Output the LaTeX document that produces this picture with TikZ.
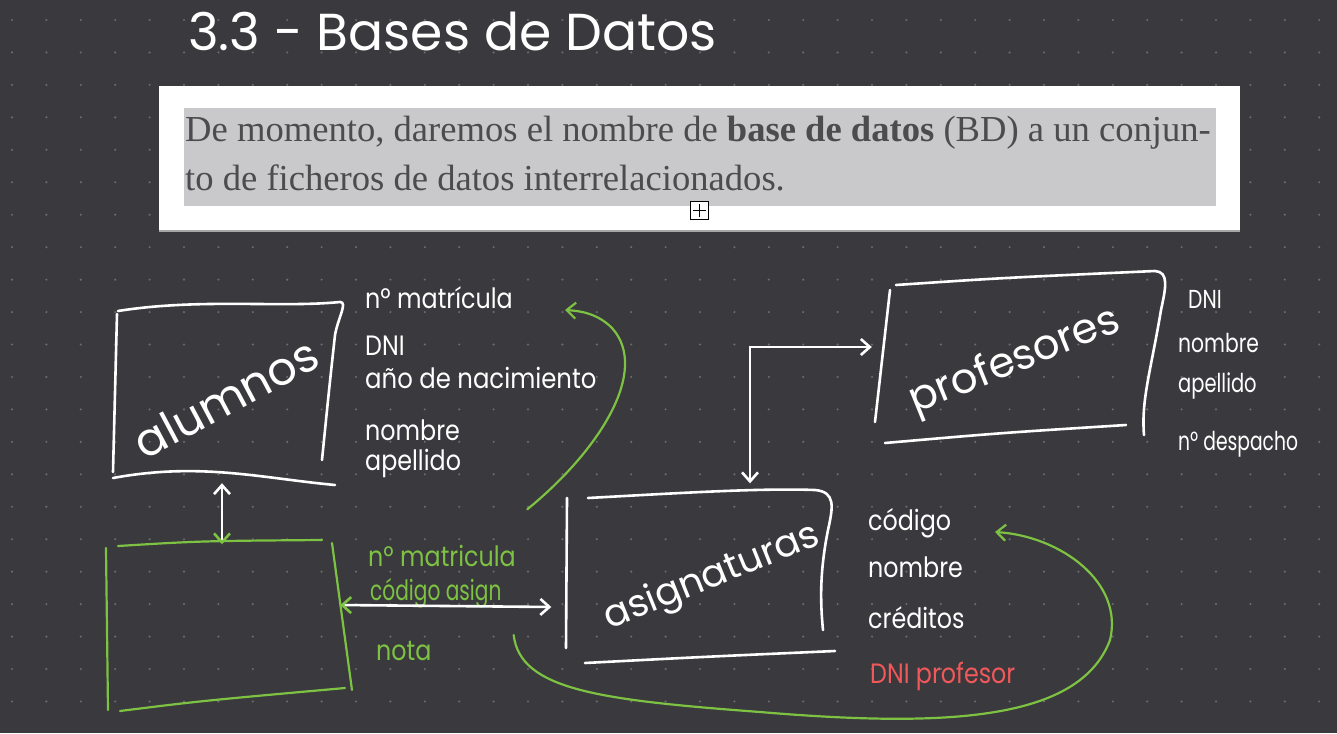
\documentclass[tikz,border=0pt]{standalone}
\usepackage{fontspec}
\setmainfont{Liberation Serif}
\newfontfamily\hand{Poppins}
\usetikzlibrary{arrows.meta,calc}
\definecolor{bgc}{HTML}{3A393D}
\definecolor{dotc}{HTML}{6A696E}
\definecolor{grn}{HTML}{7DC242}
\definecolor{redc}{HTML}{F0585A}
\definecolor{txtg}{HTML}{4C4C4F}
\definecolor{hlc}{HTML}{C9C8CB}
\newcommand\hsz[1]{\fontsize{#1}{#1}\selectfont}
\begin{document}
\begin{tikzpicture}[x=1pt,y=-1pt,
  wline/.style={white,line width=2.6pt,line cap=round,line join=round},
  gline/.style={grn,line width=2.2pt,line cap=round,line join=round},
  >={Straight Barb[length=9pt,width=16pt]},
  boxarea/.style={draw=none,inner sep=0,minimum width=#1},
  attr/.style={anchor=base west,inner sep=0,text=white,font=\hand\hsz{28}},
  gattr/.style={attr,text=grn},
  rattr/.style={attr,text=redc},
  boxlbl/.style={inner sep=0,text=white},
  paneltext/.style={anchor=base west,inner sep=0,text=txtg,font=\hsz{36.6}}
]
\useasboundingbox (0,0) rectangle (1337,733);
\fill[bgc] (0,0) rectangle (1337,733);
% dot grid
\foreach \i in {0,...,38}{
  \foreach \j in {0,...,21}{
    \fill[dotc] ({12+34.4*\i},{20+32.45*\j}) circle (1.2);
  }
}
% title
\node[anchor=base west,inner sep=0,text=white,font=\hand\hsz{52}] (title) at (188,51) {3.3 - Bases de Datos};
% panel
\node[fill=white,draw=none,minimum width=1081,minimum height=145,inner sep=0] (panel) at (699.5,158.5) {};
\draw[gray!70,line width=1.5pt] (panel.south west) -- (panel.south east);
\fill[hlc] (184,108) rectangle (1216,206);
\node[paneltext] (p1) at (185,141) {De momento, daremos el nombre de \textbf{base de datos} (BD) a un conjun-};
\node[paneltext] (p2) at (185,190) {to de ficheros de datos interrelacionados.};
\node[draw=black,fill=white,line width=0.9pt,minimum size=18,inner sep=0] (plus) at (699.5,210.5) {};
\draw[black,line width=0.9pt] ($(plus.west)+(3,0)$) -- ($(plus.east)+(-3,0)$) ($(plus.north)+(0,3)$) -- ($(plus.south)+(0,-3)$);

% box areas
\node[boxarea=226,minimum height=170] (alum) at (228,392) {};
\node[boxarea=232,minimum height=165] (rel) at (224,625) {};
\node[boxarea=265,minimum height=165] (asig) at (700,578) {};
\node[boxarea=280,minimum height=165] (prof) at (1022,357) {};

% alumnos outline
\draw[wline] (118,311) .. controls (200,298) and (280,308) .. (340,302) .. controls (348,302) and (338,318) .. (335,335) .. controls (329,390) .. (322,460);
\draw[wline] (117,314) -- (113,472);
\draw[wline] (113,478) .. controls (200,462) and (260,478) .. (335,485);
% green box outline
\draw[gline] (106,548) -- (108,710);
\draw[gline] (118,546) .. controls (200,541) .. (322,540);
\draw[gline] (332,543) -- (352,690);
\draw[gline] (120,711) .. controls (200,701) .. (345,688);
% asignaturas outline
\draw[wline] (567,498) -- (566,648);
\draw[wline] (588,498) .. controls (680,493) and (760,488) .. (815,490) .. controls (836,492) and (833,507) .. (828,530) .. controls (820,570) and (820,600) .. (823,630);
\draw[wline] (585,663) .. controls (700,657) .. (835,651);
% profesores outline
\draw[wline] (890,290) -- (875,422);
\draw[wline] (896,285) .. controls (1000,278) .. (1155,271) .. controls (1169,272) and (1166,287) .. (1161,310) .. controls (1151,370) and (1141,400) .. (1144,435);
\draw[wline] (885,443) .. controls (1000,433) .. (1126,425);

% box labels
\node[boxlbl,rotate=28,font=\hand\hsz{46}] (lalum) at (226,398) {alumnos};
\node[boxlbl,rotate=22,font=\hand\hsz{38}] (lasig) at (712,578) {asignaturas};
\node[boxlbl,rotate=22,font=\hand\hsz{42}] (lprof) at (1015,362) {profesores};

% alumnos attributes
\node[attr] (am1) at (365,308) {\scalebox{0.85}[1]{nº matrícula}};
\node[attr] (am2) at (365,355) {\scalebox{0.85}[1]{DNI}};
\node[attr] (am3) at (365,388) {\scalebox{0.87}[1]{año de nacimiento}};
\node[attr] (am4) at (365,440) {\scalebox{0.85}[1]{nombre}};
\node[attr] (am5) at (365,470) {\scalebox{0.85}[1]{apellido}};
% relation attributes
\node[gattr] (g1) at (368,566) {\scalebox{0.85}[1]{nº matricula}};
\node[gattr] (g2) at (370,600) {\scalebox{0.72}[1]{código asign}};
\node[gattr] (g3) at (376,660) {\scalebox{0.85}[1]{nota}};
% asignaturas attributes
\node[attr] (as1) at (868,530) {\scalebox{0.85}[1]{código}};
\node[attr] (as2) at (868,577) {\scalebox{0.85}[1]{nombre}};
\node[attr] (as3) at (868,628) {\scalebox{0.85}[1]{créditos}};
\node[rattr] (as4) at (870,683) {\scalebox{0.85}[1]{DNI profesor}};
% profesores attributes
\node[attr,font=\hand\hsz{26}] (pr1) at (1188,308) {\scalebox{0.78}[1]{DNI}};
\node[attr,font=\hand\hsz{26}] (pr2) at (1178,352) {\scalebox{0.78}[1]{nombre}};
\node[attr,font=\hand\hsz{26}] (pr3) at (1178,392) {\scalebox{0.75}[1]{apellido}};
\node[attr,font=\hand\hsz{26}] (pr4) at (1178,450) {\scalebox{0.72}[1]{nº despacho}};

% connectors
\draw[wline,{Straight Barb[length=9pt,width=16pt,color=grn]}-{Straight Barb[length=9pt,width=16pt]}] ($(rel.north)+(-2,2)$) -- ($(alum.south)+(-6,6)$);
\draw[wline,{Straight Barb[length=9pt,width=16pt,color=grn]}-{Straight Barb[length=9pt,width=16pt]}] (rel.east |- 0,605) -- ($(asig.west |- 0,607)+(-16,0)$);
\coordinate (cor) at (750,347);
\draw[wline,->] (cor) -- ($(prof.west |- cor)+(-10,0)$);
\draw[wline,->] (cor) -- ($(cor |- asig.north)+(0,-12)$);
% green curves
\coordinate (tipa) at (565,310);
\coordinate (tipb) at (995,532);
\draw[gline,->] ($(asig.north west)+(-40,14)$) .. controls (600,450) and (650,370) .. (612,328) .. controls (598,314) and (582,311) .. (tipa);
\draw[gline,->] ($(g2.base east)+(12,35)$) .. controls (520,690) and (600,700) .. (760,712) .. controls (950,728) and (1080,720) .. (1110,640) .. controls (1124,582) and (1060,536) .. (tipb);
\end{tikzpicture}
\end{document}
